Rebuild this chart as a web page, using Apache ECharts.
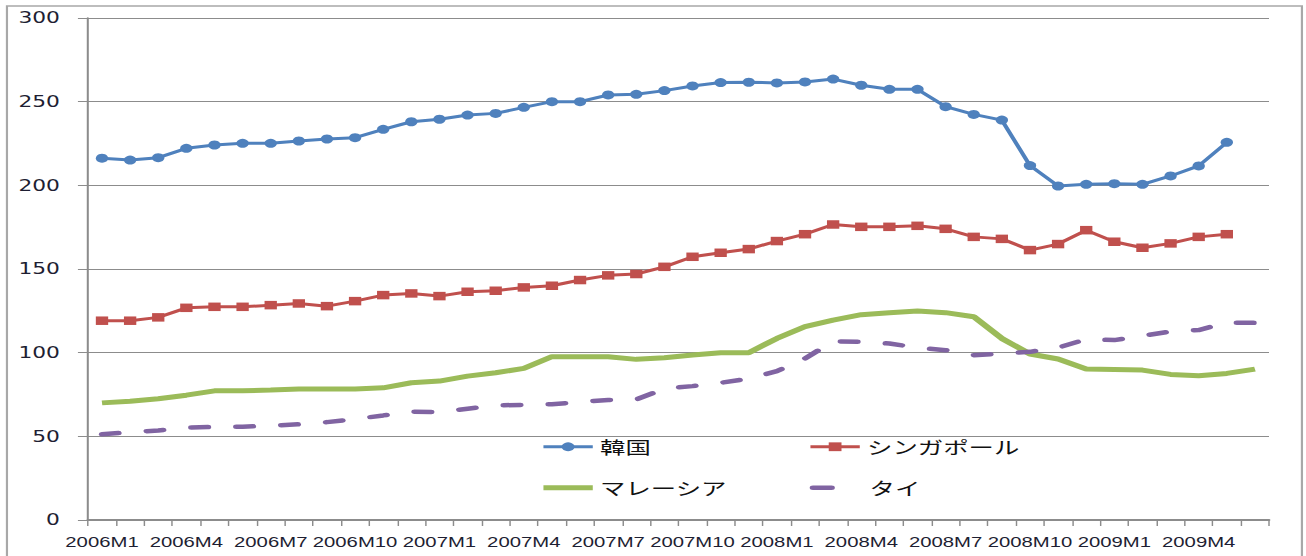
<!DOCTYPE html>
<html>
<head>
<meta charset="utf-8">
<script src="https://cdn.jsdelivr.net/npm/echarts@6/dist/echarts.min.js"></script>
<style>
  html, body { margin: 0; padding: 0; background: #ffffff; overflow: hidden; }
  /* the chart is laid out at 900px and widened to fill the 1306px page */
  #chart {
    width: 900px;
    height: 556px;
    transform: scaleX(1.45111);
    transform-origin: 0 0;
  }
</style>
</head>
<body>
<div id="chart"></div>
<script>
// Monthly index, 2006M1 – 2009M6
const months = [
  '2006M1','2006M2','2006M3','2006M4','2006M5','2006M6','2006M7','2006M8','2006M9','2006M10','2006M11','2006M12',
  '2007M1','2007M2','2007M3','2007M4','2007M5','2007M6','2007M7','2007M8','2007M9','2007M10','2007M11','2007M12',
  '2008M1','2008M2','2008M3','2008M4','2008M5','2008M6','2008M7','2008M8','2008M9','2008M10','2008M11','2008M12',
  '2009M1','2009M2','2009M3','2009M4','2009M5','2009M6'
];
const yTicks = [0, 50, 100, 150, 200, 250, 300];

const seriesNames = ['韓国', 'シンガポール', 'マレーシア', 'タイ'];

const korea = [216.2, 215.1, 216.5, 222.1, 224.1, 225.1, 225.1, 226.5, 227.7, 228.5, 233.5, 238.0,
  239.5, 242.0, 243.0, 246.6, 250.0, 250.0, 254.0, 254.4, 256.6, 259.4, 261.4, 261.6,
  261.2, 261.8, 263.5, 259.8, 257.4, 257.4, 247.0, 242.4, 239.0, 211.8, 199.6, 200.6,
  201.0, 200.6, 205.6, 211.6, 225.7];

const singapore = [119.1, 119.1, 121.1, 126.8, 127.4, 127.4, 128.4, 129.4, 127.8, 130.8, 134.4, 135.4,
  133.8, 136.4, 137.0, 139.0, 140.0, 143.4, 146.2, 147.0, 151.3, 157.3, 159.7, 161.9,
  166.7, 170.8, 176.6, 175.2, 175.2, 175.8, 174.0, 169.2, 168.0, 161.3, 164.9, 173.2,
  166.3, 162.7, 165.3, 169.2, 170.8];

const malaysia = [70.0, 71.0, 72.5, 74.6, 77.2, 77.2, 77.7, 78.3, 78.3, 78.3, 79.0, 82.0,
  83.0, 86.0, 88.0, 90.6, 97.6, 97.6, 97.6, 96.0, 97.0, 98.6, 100.0, 100.0,
  108.5, 115.5, 119.5, 122.7, 123.9, 124.9, 123.9, 121.5, 108.5, 99.2, 96.2, 90.2,
  90.0, 89.6, 87.0, 86.2, 87.6, 90.2];

const thailand = [51.2, 52.5, 53.5, 55.2, 55.6, 55.8, 56.3, 57.2, 58.5, 60.3, 62.5, 64.8,
  64.5, 66.5, 68.5, 68.8, 69.2, 70.5, 71.7, 72.0, 78.5, 80.0, 82.0, 84.5,
  89.0, 96.5, 106.8, 106.5, 105.5, 103.0, 101.5, 98.5, 99.5, 100.5, 103.0, 108.0,
  107.5, 110.0, 112.7, 113.5, 118.0, 117.8];

const colors = ['#4f81bd', '#c0504d', '#9bbb59', '#8064a2'];
const gridGray = '#8c8c8c';
const labelColor = '#1e1e32';
const cjkFont = '"Noto Sans CJK JP", "Noto Sans CJK SC", sans-serif';

function legendItem(entry, left, top) {
  return {
    data: [entry],
    left: left,
    top: top,
    padding: 0,
    itemWidth: 34,
    itemHeight: 11,
    selectedMode: false,
    textStyle: { fontFamily: cjkFont, fontSize: 17.5, color: '#111111' }
  };
}

const chart = echarts.init(document.getElementById('chart'), null, { renderer: 'svg' });

chart.setOption({
  animation: false,
  backgroundColor: '#ffffff',
  graphic: [{
    type: 'rect',
    shape: { x: 4.8, y: 6, width: 892.4, height: 600 },
    style: { fill: 'none', stroke: '#a8a8a8', lineWidth: 1.5 },
    silent: true,
    z: 0
  }],
  grid: { left: 60.6, right: 25.5, top: 18, bottom: 36, containLabel: false },
  legend: [
    legendItem({ name: seriesNames[0], lineStyle: { width: 3 } }, 373, 438),
    legendItem({ name: seriesNames[1], lineStyle: { width: 3 } }, 557, 438),
    legendItem({ name: seriesNames[2], itemStyle: { opacity: 0 }, lineStyle: { width: 5 } }, 372, 479),
    legendItem({ name: seriesNames[3], itemStyle: { opacity: 0 },
      lineStyle: { width: 4.5, type: [12.8, 30], cap: 'round' } }, 558, 479)
  ],
  xAxis: {
    type: 'category',
    data: months,
    boundaryGap: true,
    axisLine: { lineStyle: { color: gridGray, width: 2 } },
    axisTick: { show: true, interval: 0, length: 6, lineStyle: { color: gridGray, width: 1 } },
    axisLabel: {
      interval: 2,
      margin: 15,
      fontFamily: 'Liberation Sans',
      fontSize: 14,
      color: labelColor
    },
    splitLine: { show: false }
  },
  yAxis: {
    type: 'value',
    min: yTicks[0],
    max: yTicks[yTicks.length - 1],
    interval: yTicks[1] - yTicks[0],
    axisLine: { show: true, lineStyle: { color: gridGray, width: 1.4 } },
    axisTick: { show: true, inside: false, length: 6.9, lineStyle: { color: gridGray, width: 1 } },
    axisLabel: {
      margin: 19.3,
      fontFamily: 'DejaVu Sans',
      fontSize: 15,
      color: labelColor
    },
    splitLine: { show: true, lineStyle: { color: gridGray, width: 1 } }
  },
  series: [
    {
      name: seriesNames[0],
      type: 'line',
      data: korea,
      symbol: 'circle',
      symbolSize: [8.5, 9],
      showAllSymbol: true,
      itemStyle: { color: colors[0] },
      lineStyle: { color: colors[0], width: 3 },
      z: 5
    },
    {
      name: seriesNames[1],
      type: 'line',
      data: singapore,
      symbol: 'rect',
      symbolSize: [8.5, 8.5],
      showAllSymbol: true,
      itemStyle: { color: colors[1] },
      lineStyle: { color: colors[1], width: 3 },
      z: 5
    },
    {
      name: seriesNames[2],
      type: 'line',
      data: malaysia,
      symbol: 'none',
      itemStyle: { color: colors[2] },
      lineStyle: { color: colors[2], width: 5 },
      z: 4
    },
    {
      name: seriesNames[3],
      type: 'line',
      data: thailand,
      symbol: 'none',
      itemStyle: { color: colors[3] },
      lineStyle: { color: colors[3], width: 4.5, type: [11.4, 19.6], cap: 'round' },
      z: 4
    }
  ]
});
</script>
</body>
</html>
